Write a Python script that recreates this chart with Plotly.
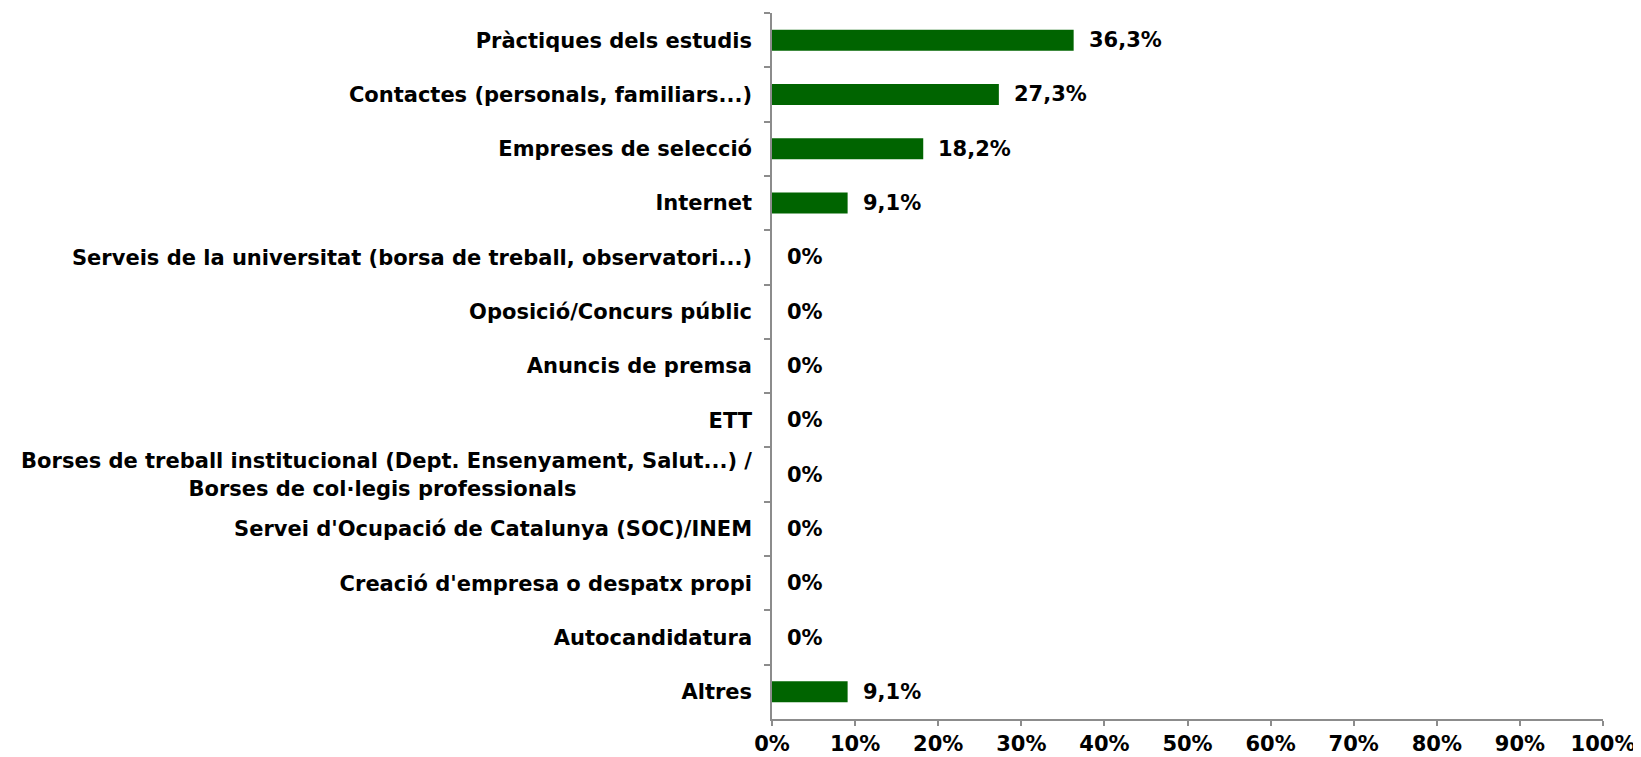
import plotly.graph_objects as go

categories = [
    "Pràctiques dels estudis",
    "Contactes (personals, familiars...)",
    "Empreses de selecció",
    "Internet",
    "Serveis de la universitat (borsa de treball, observatori...)",
    "Oposició/Concurs públic",
    "Anuncis de premsa",
    "ETT",
    "Borses de treball institucional (Dept. Ensenyament, Salut...) /<br>Borses de col·legis professionals" + "&nbsp;" * 24,
    "Servei d'Ocupació de Catalunya (SOC)/INEM",
    "Creació d'empresa o despatx propi",
    "Autocandidatura",
    "Altres",
]
values = [36.3, 27.3, 18.2, 9.1, 0, 0, 0, 0, 0, 0, 0, 0, 9.1]
x_ticks = [0, 10, 20, 30, 40, 50, 60, 70, 80, 90, 100]
x_ticktext = ["0%", "10%", "20%", "30%", "40%", "50%", "60%", "70%", "80%", "90%", "100%"]

FONT = "DejaVu Sans"
AX = "#8c8c8c"

fig = go.Figure()
fig.add_trace(go.Bar(
    x=values, y=categories, orientation="h",
    marker=dict(color="#006400", line=dict(width=0)),
    hoverinfo="skip",
))

def fmt(v):
    s = ("%.1f" % v).replace(".", ",")
    if v == 0:
        s = "0"
    return s + "%"

for c, v in zip(categories, values):
    fig.add_annotation(
        x=v, y=c, text="<b>%s</b>" % fmt(v), showarrow=False,
        xanchor="left", yanchor="middle", xshift=13,
        font=dict(family=FONT, size=21, color="black"),
    )

# page body has an 8px margin, so the figure is offset by 8px
fig.update_layout(
    width=1633, height=749,
    margin=dict(l=764, r=38, t=5, b=38),
    paper_bgcolor="white", plot_bgcolor="white",
    bargap=0.614,
    showlegend=False,
    font=dict(family=FONT, size=21, color="black", weight="bold"),
)
fig.update_xaxes(
    range=[0, 100], tickmode="array", tickvals=x_ticks, ticktext=x_ticktext,
    showgrid=False, zeroline=False, automargin=False,
    showline=True, linecolor=AX, linewidth=1.5,
    ticks="outside", ticklen=5, tickcolor=AX, tickwidth=1.5,
    ticklabelstandoff=0,
    tickfont=dict(family=FONT, size=21, color="black", weight="bold"),
)
fig.update_yaxes(
    categoryorder="array", categoryarray=categories, autorange="reversed",
    showgrid=False, zeroline=False, automargin=False,
    showline=True, linecolor=AX, linewidth=1.5,
    ticks="outside", ticklen=6, tickcolor=AX, tickwidth=1.5,
    tickson="boundaries",
    ticklabelstandoff=14,
    tickfont=dict(family=FONT, size=21, color="black", weight="bold"),
)

fig.write_html("out.html")
